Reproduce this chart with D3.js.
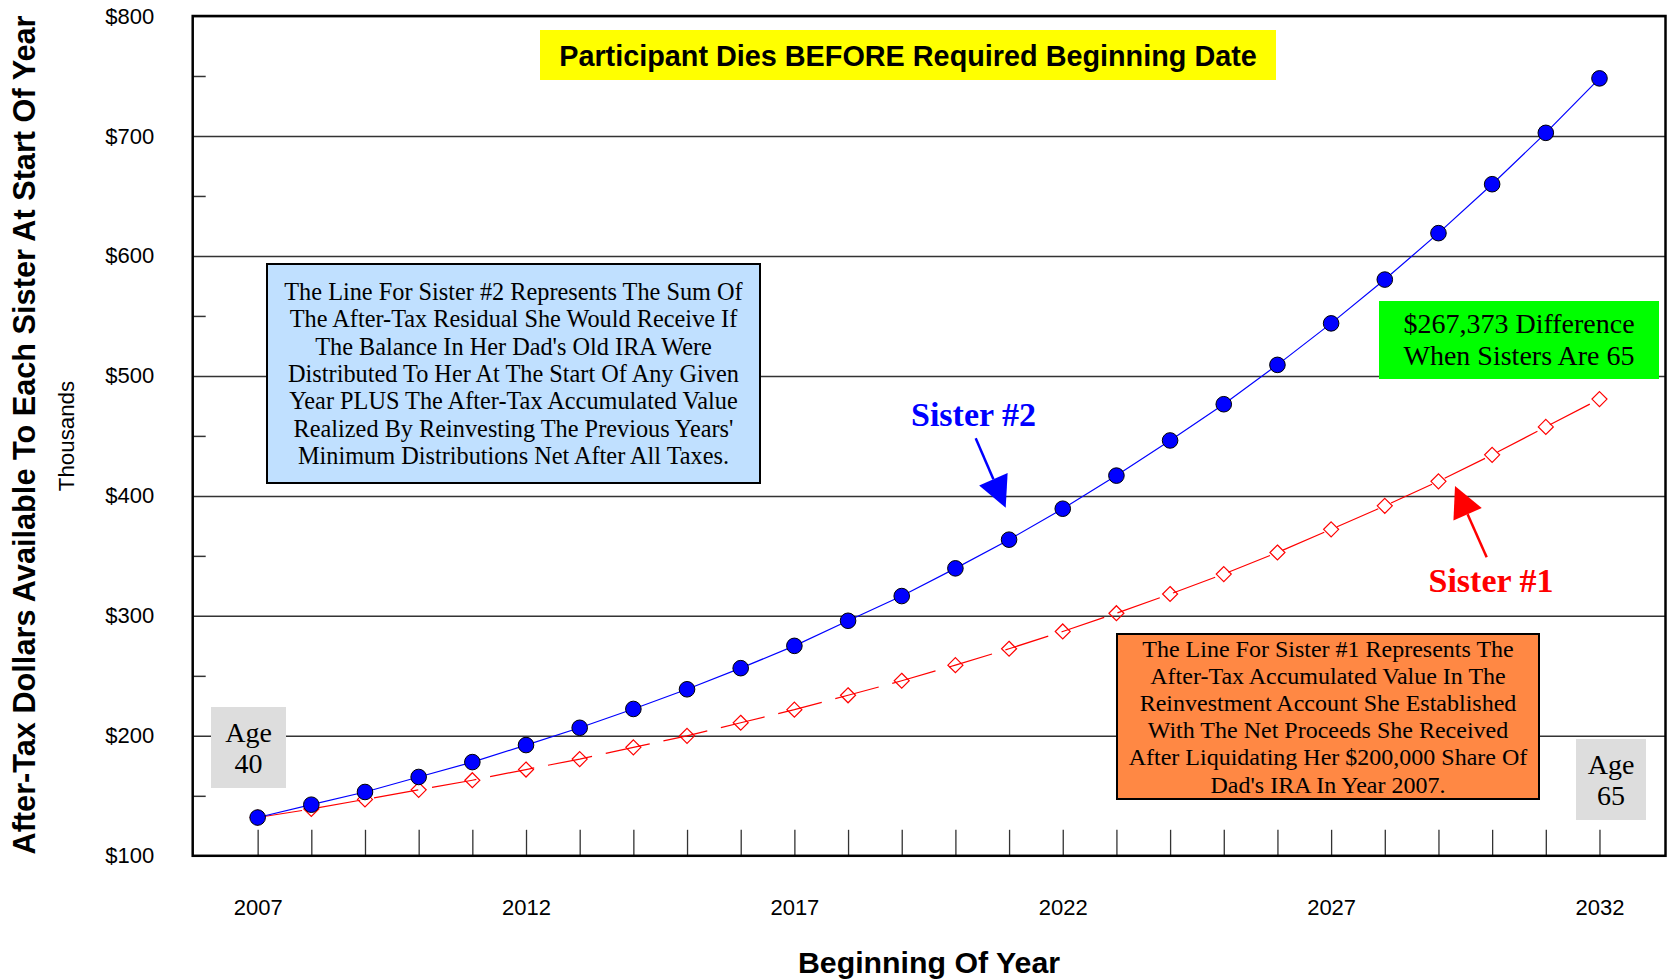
<!DOCTYPE html>
<html>
<head>
<meta charset="utf-8">
<script src="https://cdn.jsdelivr.net/npm/d3@7"></script>
<style>
body { margin: 0; background: #fff; }
</style>
</head>
<body>
<script>
let w = 1669;
let h = 980;

// plot area edges
let plotL = 192.7, plotR = 1665.5, plotT = 16, plotB = 855.8;

const years = [2007, 2008, 2009, 2010, 2011, 2012, 2013, 2014, 2015, 2016, 2017, 2018, 2019,
    2020, 2021, 2022, 2023, 2024, 2025, 2026, 2027, 2028, 2029, 2030, 2031, 2032];
// thousands of dollars
const sister1 = [131.9, 139.0, 147.0, 155.0, 163.0, 171.9, 180.6, 190.4, 200.0, 210.9, 221.8, 233.8, 245.9,
    258.9, 272.6, 287.0, 302.2, 318.2, 334.8, 352.8, 372.1, 391.7, 412.1, 434.2, 457.5, 480.7];
const sister2 = [131.9, 142.6, 153.2, 165.7, 178.1, 192.3, 206.7, 222.4, 238.8, 256.4, 275.0, 295.9, 316.5,
    339.6, 363.5, 389.3, 416.9, 446.2, 476.4, 509.2, 543.8, 580.3, 619.0, 659.8, 702.6, 748.0];
const yTicks = [100, 200, 300, 400, 500, 600, 700, 800];
const yMinor = [150, 250, 350, 450, 550, 650, 750];
const xLabels = [2007, 2012, 2017, 2022, 2027, 2032];

const blueNote = ["The Line For Sister #2 Represents The Sum Of",
    "The After-Tax Residual She Would Receive If",
    "The Balance In Her Dad's Old IRA Were",
    "Distributed To Her At The Start Of Any Given",
    "Year PLUS The After-Tax Accumulated Value",
    "Realized By Reinvesting The Previous Years'",
    "Minimum Distributions Net After All Taxes."];
const orangeNote = ["The Line For Sister #1 Represents The",
    "After-Tax Accumulated Value In The",
    "Reinvestment Account She Established",
    "With The Net Proceeds She Received",
    "After Liquidating Her $200,000 Share Of",
    "Dad's IRA In Year 2007."];
const greenNote = ["$267,373 Difference", "When Sisters Are 65"];

const sans = "'Liberation Sans', Arial, sans-serif";
const serif = "'Liberation Serif', 'Times New Roman', serif";

let svg = d3.select("body")
    .append("svg")
    .attr("width", w)
    .attr("height", h);

svg.append("rect").attr("width", w).attr("height", h).attr("fill", "#fff");

let x = d3.scaleLinear().domain([2005.79, 2033.23]).range([plotL, plotR]);
let y = d3.scaleLinear().domain([100, 800]).range([plotB, plotT]);

// gridlines
let grid = svg.append("g")
    .attr("transform", `translate(${plotL},0)`)
    .call(d3.axisLeft(y).tickValues(yTicks).tickSize(-(plotR - plotL)).tickFormat(""));
grid.select(".domain").remove();
grid.selectAll("line").attr("stroke", "#333").attr("stroke-width", 1.5);

// minor ticks on the left
let minor = svg.append("g")
    .attr("transform", `translate(${plotL},0)`)
    .call(d3.axisLeft(y).tickValues(yMinor).tickSize(-13).tickFormat(""));
minor.select(".domain").remove();
minor.selectAll("line").attr("stroke", "#333").attr("stroke-width", 1.5);

// y labels
let yAxis = svg.append("g")
    .attr("transform", `translate(${plotL},0)`)
    .call(d3.axisLeft(y).tickValues(yTicks).tickSize(0).tickPadding(38.5).tickFormat(d => "$" + d));
yAxis.select(".domain").remove();
yAxis.selectAll("text").attr("font-family", sans).attr("font-size", 22).attr("fill", "#000");

// year ticks pointing up
let xTicks = svg.append("g")
    .attr("transform", `translate(0,${plotB})`)
    .call(d3.axisBottom(x).tickValues(years).tickSize(-26).tickFormat(""));
xTicks.select(".domain").remove();
xTicks.selectAll("line").attr("stroke", "#333").attr("stroke-width", 1.3);

let xAxis = svg.append("g")
    .attr("transform", `translate(0,${plotB})`)
    .call(d3.axisBottom(x).tickValues(xLabels).tickSize(0).tickPadding(43.5).tickFormat(d3.format("d")));
xAxis.select(".domain").remove();
xAxis.selectAll("text").attr("font-family", sans).attr("font-size", 22).attr("fill", "#000");

// note boxes
function noteBox(x0, y0, x1, y1, fill, stroke, lines, size, base, lineH, family, weight) {
    let g = svg.append("g");
    g.append("rect")
        .attr("x", x0).attr("y", y0)
        .attr("width", x1 - x0).attr("height", y1 - y0)
        .attr("fill", fill)
        .attr("stroke", stroke ? "#000" : "none")
        .attr("stroke-width", 2);
    g.selectAll("text")
        .data(lines)
        .enter()
        .append("text")
        .attr("x", (x0 + x1) / 2)
        .attr("y", (d, i) => base + i * lineH)
        .attr("text-anchor", "middle")
        .attr("font-family", family)
        .attr("font-size", size)
        .attr("font-weight", weight || "normal")
        .attr("fill", "#000")
        .text(d => d);
}

noteBox(540, 30, 1276, 80, "#ffff00", false, ["Participant Dies BEFORE Required Beginning Date"], 28.8, 65.5, 0, sans, "bold");
noteBox(267, 264, 760, 483, "#c0e0ff", true, blueNote, 24.3, 299.8, 27.4, serif);
noteBox(1117, 634, 1539, 799, "#ff8844", true, orangeNote, 24, 657, 27.1, serif);
noteBox(1379, 301, 1659, 379, "#00ff00", false, greenNote, 28, 333, 31.5, serif);
noteBox(211, 707, 286, 788, "#dddddd", false, ["Age", "40"], 28, 742, 31, serif);
noteBox(1576, 739, 1646, 820, "#dddddd", false, ["Age", "65"], 28, 774, 31, serif);

// series
let line = d3.line()
    .x((d, i) => x(years[i]))
    .y(d => y(d));

svg.append("path")
    .datum(sister1)
    .attr("d", line)
    .attr("fill", "none")
    .attr("stroke", "#ff0000")
    .attr("stroke-width", 1.2)
    .attr("stroke-dasharray", "45,14");

svg.selectAll("path.dia")
    .data(sister1)
    .enter()
    .append("path")
    .attr("class", "dia")
    .attr("d", (d, i) => {
        let cx = x(years[i]), cy = y(d), r = 7.5;
        return `M${cx},${cy - r}L${cx + r},${cy}L${cx},${cy + r}L${cx - r},${cy}Z`;
    })
    .attr("fill", "none")
    .attr("stroke", "#ff0000")
    .attr("stroke-width", 1.2);

svg.append("path")
    .datum(sister2)
    .attr("d", line)
    .attr("fill", "none")
    .attr("stroke", "#0000ff")
    .attr("stroke-width", 1.2);

svg.selectAll("circle.s2")
    .data(sister2)
    .enter()
    .append("circle")
    .attr("class", "s2")
    .attr("cx", (d, i) => x(years[i]))
    .attr("cy", d => y(d))
    .attr("r", 7.8)
    .attr("fill", "#0000ff")
    .attr("stroke", "#000")
    .attr("stroke-width", 1);

// arrows + series labels
function arrow(x0, y0, x1, y1, color) {
    let dx = x1 - x0, dy = y1 - y0;
    let len = Math.sqrt(dx * dx + dy * dy);
    let ux = dx / len, uy = dy / len;
    let hl = 31, hw = 15.5;
    let bx = x1 - ux * hl, by = y1 - uy * hl;
    svg.append("line")
        .attr("x1", x0).attr("y1", y0)
        .attr("x2", bx).attr("y2", by)
        .attr("stroke", color)
        .attr("stroke-width", 2.5);
    svg.append("path")
        .attr("d", `M${x1},${y1}L${bx - uy * hw},${by + ux * hw}L${bx + uy * hw},${by - ux * hw}Z`)
        .attr("fill", color);
}

arrow(975.7, 438.3, 1005.7, 507.7, "#0000ff");
arrow(1486.7, 557.3, 1455, 486, "#ff0000");

svg.append("text")
    .attr("x", 973.5).attr("y", 425.5)
    .attr("text-anchor", "middle")
    .attr("font-family", serif).attr("font-weight", "bold").attr("font-size", 34)
    .attr("fill", "#0000ff")
    .text("Sister #2");

svg.append("text")
    .attr("x", 1491).attr("y", 591.5)
    .attr("text-anchor", "middle")
    .attr("font-family", serif).attr("font-weight", "bold").attr("font-size", 34)
    .attr("fill", "#ff0000")
    .text("Sister #1");

// frame
svg.append("rect")
    .attr("x", plotL).attr("y", plotT)
    .attr("width", plotR - plotL).attr("height", plotB - plotT)
    .attr("fill", "none")
    .attr("stroke", "#000")
    .attr("stroke-width", 2.5);

// axis titles
svg.append("text")
    .attr("transform", "translate(34.8,435) rotate(-90)")
    .attr("text-anchor", "middle")
    .attr("font-family", sans).attr("font-weight", "bold").attr("font-size", 30.7)
    .text("After-Tax Dollars Available To Each Sister  At Start Of Year");

svg.append("text")
    .attr("transform", "translate(74,436) rotate(-90)")
    .attr("text-anchor", "middle")
    .attr("font-family", sans).attr("font-size", 22.3)
    .text("Thousands");

svg.append("text")
    .attr("x", 929).attr("y", 972.5)
    .attr("text-anchor", "middle")
    .attr("font-family", sans).attr("font-weight", "bold").attr("font-size", 30.3)
    .text("Beginning Of Year");
</script>
</body>
</html>
